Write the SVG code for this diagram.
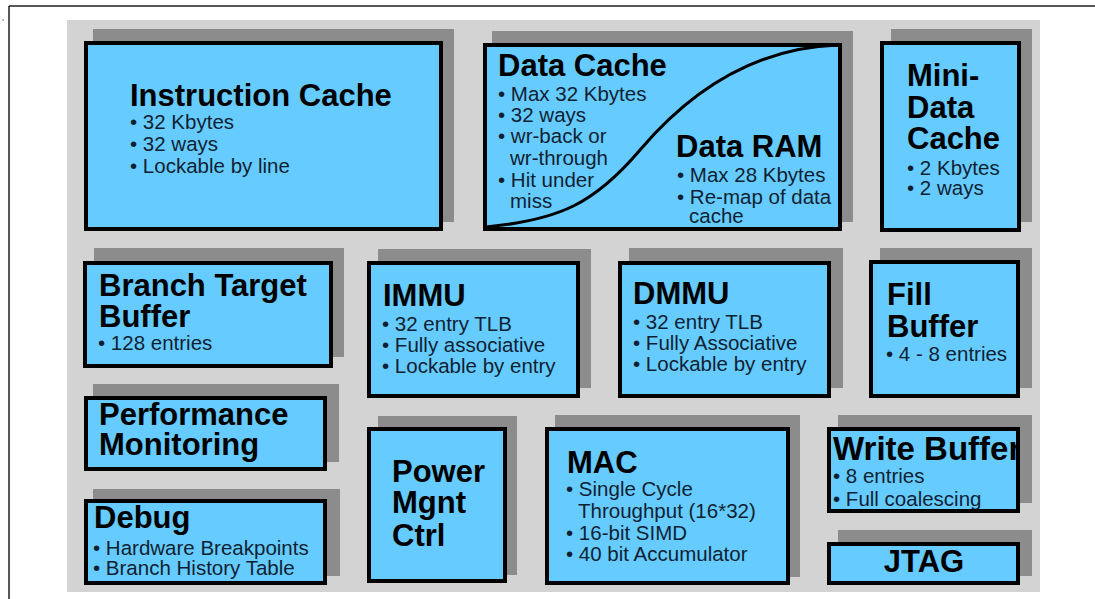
<svg xmlns="http://www.w3.org/2000/svg" width="1095" height="599" viewBox="0 0 1095 599">
<style>
.frame{stroke:#222;stroke-width:1.5;fill:none}
.bg{fill:#d3d3d3}
.sh{fill:#8c8c8c}
.box{fill:#66ccff;stroke:#000;stroke-width:4}
.edge{fill:none;stroke:#000;stroke-width:4}
text{font-family:"Liberation Sans",Arial,Helvetica,sans-serif}
.t{font-size:31px;font-weight:bold;fill:#000}
.b{font-size:20.5px;fill:#0f1f33}
.curve{fill:none;stroke:#000;stroke-width:3}
</style>
<defs>
<clipPath id="wbclip"><rect x="829" y="429" width="189" height="82"/></clipPath>
</defs>
<rect x="0" y="0" width="1095" height="599" fill="#fff"/>
<g id="frame">
<path class="frame" d="M9,6 H1095 M9,6 V599"/>
<rect x="2.5" y="19.5" width="1.2" height="1.2" fill="#444"/>
</g>
<rect class="bg" x="67" y="20" width="973" height="572"/>

<g id="instruction-cache">
<rect class="sh" x="93" y="29" width="361" height="193"/>
<rect class="box" x="86" y="43" width="355" height="186"/>
<text class="t" x="130" y="106">Instruction Cache</text>
<text class="b" x="130" y="129">• 32 Kbytes</text>
<text class="b" x="130" y="151">• 32 ways</text>
<text class="b" x="130" y="173">• Lockable by line</text>
</g>

<g id="data-cache">
<rect class="sh" x="492" y="31" width="361" height="191"/>
<rect class="box" x="485" y="45" width="355" height="184"/>
<path class="curve" d="M486,227 C560,220 595,203 640,150 S750,48 838,45"/>
<text class="t" x="498" y="76">Data Cache</text>
<text class="b" x="498" y="101">• Max 32 Kbytes</text>
<text class="b" x="498" y="122">• 32 ways</text>
<text class="b" x="498" y="143">• wr-back or</text>
<text class="b" x="510" y="165">wr-through</text>
<text class="b" x="498" y="187">• Hit under</text>
<text class="b" x="510" y="208">miss</text>
<text class="t" x="676" y="157">Data RAM</text>
<text class="b" x="677" y="182">• Max 28 Kbytes</text>
<text class="b" x="677" y="204">• Re-map of data</text>
<text class="b" x="689" y="223">cache</text>
</g>

<g id="mini-data-cache">
<rect class="sh" x="891" y="29" width="141" height="193"/>
<rect class="box" x="882" y="43" width="137" height="187"/>
<text class="t" x="907" y="86">Mini-</text>
<text class="t" x="907" y="118">Data</text>
<text class="t" x="907" y="149">Cache</text>
<text class="b" x="907" y="175">• 2 Kbytes</text>
<text class="b" x="907" y="195">• 2 ways</text>
</g>

<g id="branch-target-buffer">
<rect class="sh" x="94" y="248" width="250" height="109"/>
<rect class="box" x="85" y="263" width="246" height="103"/>
<text class="t" x="99" y="296">Branch Target</text>
<text class="t" x="99" y="327">Buffer</text>
<text class="b" x="98" y="350">• 128 entries</text>
</g>

<g id="immu">
<rect class="sh" x="378" y="249" width="213" height="139"/>
<rect class="box" x="369" y="263" width="209" height="133"/>
<text class="t" x="383" y="306">IMMU</text>
<text class="b" x="382" y="331">• 32 entry TLB</text>
<text class="b" x="382" y="352">• Fully associative</text>
<text class="b" x="382" y="373">• Lockable by entry</text>
</g>

<g id="dmmu">
<rect class="sh" x="629" y="248" width="214" height="140"/>
<rect class="box" x="620" y="263" width="209" height="133"/>
<text class="t" x="633" y="304">DMMU</text>
<text class="b" x="633" y="329">• 32 entry TLB</text>
<text class="b" x="633" y="350">• Fully Associative</text>
<text class="b" x="633" y="371">• Lockable by entry</text>
</g>

<g id="fill-buffer">
<rect class="sh" x="880" y="248" width="152" height="140"/>
<rect class="box" x="871" y="262" width="147" height="134"/>
<text class="t" x="887" y="305">Fill</text>
<text class="t" x="887" y="337">Buffer</text>
<text class="b" x="886" y="361">• 4 - 8 entries</text>
</g>

<g id="performance-monitoring">
<rect class="sh" x="93" y="384" width="246" height="78"/>
<rect class="box" x="86" y="398" width="239" height="71"/>
<text class="t" x="99" y="425">Performance</text>
<text class="t" x="99" y="455">Monitoring</text>
</g>

<g id="power-mgnt-ctrl">
<rect class="sh" x="378" y="416" width="139" height="159"/>
<rect class="box" x="369" y="429" width="136" height="152"/>
<text class="t" x="392" y="482">Power</text>
<text class="t" x="392" y="513">Mgnt</text>
<text class="t" x="392" y="546">Ctrl</text>
</g>

<g id="mac">
<rect class="sh" x="555" y="415" width="245" height="162"/>
<rect class="box" x="547" y="429" width="241" height="154"/>
<text class="t" x="567" y="473">MAC</text>
<text class="b" x="566" y="496">• Single Cycle</text>
<text class="b" x="578" y="518">Throughput (16*32)</text>
<text class="b" x="566" y="540">• 16-bit SIMD</text>
<text class="b" x="566" y="561">• 40 bit Accumulator</text>
</g>

<g id="write-buffer">
<rect class="sh" x="838" y="415" width="194" height="88"/>
<rect x="829" y="429" width="189" height="82" fill="#66ccff"/>
<g clip-path="url(#wbclip)">
<text class="t" x="833" y="460" style="font-size:33px">Write Buffer</text>
<text class="b" x="833" y="483">• 8 entries</text>
<text class="b" x="833" y="506">• Full coalescing</text>
</g>
<rect class="edge" x="829" y="429" width="189" height="82"/>
</g>

<g id="debug">
<rect class="sh" x="93" y="489" width="247" height="87"/>
<rect class="box" x="86" y="501" width="239" height="82"/>
<text class="t" x="94" y="528">Debug</text>
<text class="b" x="93" y="555">• Hardware Breakpoints</text>
<text class="b" x="93" y="575">• Branch History Table</text>
</g>

<g id="jtag">
<rect class="sh" x="838" y="530" width="194" height="46"/>
<rect class="box" x="829" y="544" width="189" height="39"/>
<text class="t" x="924" y="572" text-anchor="middle">JTAG</text>
</g>

<g id="connectors"></g>
</svg>
